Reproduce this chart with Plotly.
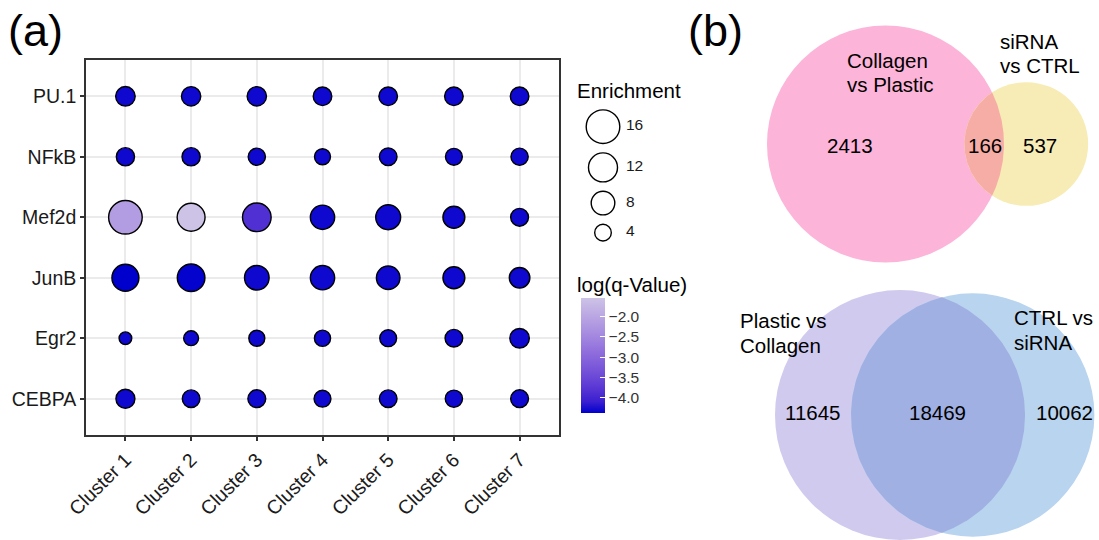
import numpy as np
import plotly.graph_objects as go

# ---------------- panel (a): motif enrichment dot plot ----------------
clusters = ["Cluster 1", "Cluster 2", "Cluster 3", "Cluster 4",
            "Cluster 5", "Cluster 6", "Cluster 7"]
factors = ["CEBPA", "Egr2", "JunB", "Mef2d", "NFkB", "PU.1"]  # bottom to top

enrich_cebpa = [5.2, 4.5, 4.6, 4.1, 4.5, 4.3, 4.6]
enrich_egr2 = [2.3, 3.2, 3.7, 3.8, 4.1, 4.5, 5.5]
enrich_junb = [10.4, 10.9, 8.7, 8.5, 8.0, 6.9, 6.1]
enrich_mef2d = [16.0, 11.1, 11.7, 8.5, 8.9, 6.9, 4.6]
enrich_nfkb = [4.8, 4.8, 4.3, 3.7, 4.5, 4.1, 4.3]
enrich_pu1 = [5.5, 5.4, 5.4, 5.0, 5.0, 5.0, 5.0]

logq_cebpa = [-4.30, -4.30, -4.30, -4.30, -4.30, -4.30, -4.30]
logq_egr2 = [-4.30, -4.30, -4.30, -4.30, -4.30, -4.30, -4.30]
logq_junb = [-4.37, -4.35, -4.30, -4.30, -4.30, -4.30, -4.30]
logq_mef2d = [-2.15, -1.55, -3.85, -4.30, -4.30, -4.30, -4.30]
logq_nfkb = [-4.30, -4.30, -4.30, -4.30, -4.30, -4.30, -4.30]
logq_pu1 = [-4.30, -4.30, -4.30, -4.30, -4.30, -4.30, -4.30]

size_legend_values = [16, 12, 8, 4]
colorbar_ticks = [-4.0, -3.5, -3.0, -2.5, -2.0]

# ---------------- panel (b): Venn counts ----------------
venn_top = {"left": 2413, "both": 166, "right": 537}
venn_bottom = {"left": 11645, "both": 18469, "right": 10062}

FONT = "Liberation Sans, Arial, Helvetica, sans-serif"
W, H = 1099, 540

# colour bar box (pixels)
CB_LEFT, CB_TOP, CB_W, CB_H = 581, 298, 24, 115


def px_x(v):
    return v / W


def px_y(v):
    return 1 - v / H


def dot_diameter(v):
    # area-proportional size scale (outer diameter in px)
    return np.sqrt(25.0 + 75.0 * np.asarray(v, dtype=float))


# ---- Lab colour interpolation for the q-value gradient ----
def _srgb_to_lin(c):
    c = c / 255.0
    return np.where(c <= 0.04045, c / 12.92, ((c + 0.055) / 1.055) ** 2.4)


def _lin_to_srgb(c):
    c = np.clip(c, 0, 1)
    return 255.0 * np.where(c <= 0.0031308, 12.92 * c, 1.055 * c ** (1 / 2.4) - 0.055)


M = np.array([[0.4124, 0.3576, 0.1805],
              [0.2126, 0.7152, 0.0722],
              [0.0193, 0.1192, 0.9505]])
WHITE = np.array([0.95047, 1.0, 1.08883])


def rgb_to_lab(rgb):
    xyz = M @ _srgb_to_lin(np.asarray(rgb, float)) / WHITE
    f = np.where(xyz > 216 / 24389, np.cbrt(xyz), (24389 / 27 * xyz + 16) / 116)
    return np.array([116 * f[1] - 16, 500 * (f[0] - f[1]), 200 * (f[1] - f[2])])


def lab_to_rgb(lab):
    fy = (lab[0] + 16) / 116
    fx = fy + lab[1] / 500
    fz = fy - lab[2] / 200
    f = np.array([fx, fy, fz])
    xyz = np.where(f ** 3 > 216 / 24389, f ** 3, (116 * f - 16) / (24389 / 27)) * WHITE
    return _lin_to_srgb(np.linalg.solve(M, xyz))


low_rgb, high_rgb = (0, 0, 205), (205, 195, 230)
lab_lo, lab_hi = rgb_to_lab(low_rgb), rgb_to_lab(high_rgb)
colorscale = []
for t in np.linspace(0, 1, 11):
    r, g, b = lab_to_rgb(lab_lo + t * (lab_hi - lab_lo))
    colorscale.append([float(t), f"rgb({r:.0f},{g:.0f},{b:.0f})"])

enrich_rows = [enrich_cebpa, enrich_egr2, enrich_junb, enrich_mef2d, enrich_nfkb, enrich_pu1]
logq_rows = [logq_cebpa, logq_egr2, logq_junb, logq_mef2d, logq_nfkb, logq_pu1]

xs, ys, es, qs = [], [], [], []
for f, erow, qrow in zip(factors, enrich_rows, logq_rows):
    for c, e, q in zip(clusters, erow, qrow):
        xs.append(c)
        ys.append(f)
        es.append(e)
        qs.append(q)

q_min, q_max = min(qs), max(qs)

LINE_W = 1.4
fig = go.Figure()

fig.add_trace(go.Scatter(
    x=xs, y=ys, mode="markers", xaxis="x", yaxis="y", showlegend=False,
    hoverinfo="skip",
    marker=dict(
        size=dot_diameter(es) - LINE_W, opacity=1,
        color=qs, cmin=q_min, cmax=q_max, colorscale=colorscale,
        line=dict(color="black", width=LINE_W),
        colorbar=dict(
            x=px_x(CB_LEFT), xanchor="left",
            y=px_y(CB_TOP + CB_H / 2), yanchor="middle",
            len=CB_H, lenmode="pixels", thickness=CB_W, thicknessmode="pixels",
            outlinewidth=0, xpad=0, ypad=0,
            tickvals=colorbar_ticks, tickformat=".1f",
            ticks="inside", ticklen=5, tickwidth=1, tickcolor="white",
            tickfont=dict(family=FONT, size=15.5, color="#333333"),
        ),
    ),
))

# size legend ("Enrichment") drawn in pixel space
leg_d = dot_diameter(size_legend_values)
leg_y = [126.7]
for i in range(1, len(leg_d)):
    leg_y.append(leg_y[-1] + (leg_d[i - 1] + leg_d[i]) / 2 + 8)
fig.add_trace(go.Scatter(
    x=[603] * len(leg_d), y=leg_y, mode="markers", xaxis="x2", yaxis="y2",
    showlegend=False, hoverinfo="skip",
    marker=dict(size=leg_d - LINE_W, color="white", opacity=1,
                line=dict(color="black", width=LINE_W)),
))

annotations = []
shapes = []


def txt(x, y, s, size, xanchor="left", color="black"):
    annotations.append(dict(
        x=x, y=y, xref="x2", yref="y2", text=s, showarrow=False,
        xanchor=xanchor, yanchor="middle", borderpad=0,
        font=dict(family=FONT, size=size, color=color)))


for v, yy in zip(size_legend_values, leg_y):
    txt(625, yy - 2, str(v), 15.5, color="#1a1a1a")

# white tick marks on the left edge of the colour bar
for v in colorbar_ticks:
    yy = CB_TOP + (q_max - v) / (q_max - q_min) * CB_H
    shapes.append(dict(type="line", xref="x2", yref="y2", layer="above",
                       x0=CB_LEFT, x1=CB_LEFT + 5, y0=yy, y1=yy,
                       line=dict(color="white", width=1)))

txt(576, 90, "Enrichment", 20.5)
txt(576, 284, "log(q-Value)", 20.5)
txt(7, 30, "(a)", 45)
txt(687, 30, "(b)", 45)


# ---------------- Venn geometry from counts ----------------
def lens_area(r1, r2, d):
    if d >= r1 + r2:
        return 0.0
    if d <= abs(r1 - r2):
        return np.pi * min(r1, r2) ** 2
    a1 = r1 ** 2 * np.arccos((d * d + r1 * r1 - r2 * r2) / (2 * d * r1))
    a2 = r2 ** 2 * np.arccos((d * d + r2 * r2 - r1 * r1) / (2 * d * r2))
    k = 0.5 * np.sqrt((-d + r1 + r2) * (d + r1 - r2) * (d - r1 + r2) * (d + r1 + r2))
    return a1 + a2 - k


def venn_geometry(counts, r_left):
    tot_l = counts["left"] + counts["both"]
    tot_r = counts["right"] + counts["both"]
    scale = np.pi * r_left ** 2 / tot_l
    r1 = r_left
    r2 = np.sqrt(scale * tot_r / np.pi)
    target = scale * counts["both"]
    lo, hi = abs(r1 - r2), r1 + r2
    for _ in range(80):
        mid = 0.5 * (lo + hi)
        if lens_area(r1, r2, mid) > target:
            lo = mid
        else:
            hi = mid
    return r1, r2, 0.5 * (lo + hi)


def lens_polygon(cx1, r1, cx2, r2, cy):
    d = cx2 - cx1
    a = (d * d + r1 * r1 - r2 * r2) / (2 * d)
    h = np.sqrt(max(r1 * r1 - a * a, 0))
    t1 = np.arctan2(h, a)
    t2 = np.arctan2(h, a - d)
    th1 = np.linspace(-t1, t1, 120)
    th2 = np.linspace(t2, 2 * np.pi - t2, 120)
    px = np.concatenate([cx1 + r1 * np.cos(th1), cx2 + r2 * np.cos(th2)])
    py = np.concatenate([cy + r1 * np.sin(th1), cy + r2 * np.sin(th2)])
    return px, py


def venn(counts, cx_left, cy, r_left, col_l, col_r, col_both):
    r1, r2, d = venn_geometry(counts, r_left)
    cx_right = cx_left + d
    for cx, r, col in [(cx_left, r1, col_l), (cx_right, r2, col_r)]:
        shapes.append(dict(type="circle", xref="x2", yref="y2", layer="below",
                           x0=cx - r, x1=cx + r, y0=cy - r, y1=cy + r,
                           fillcolor=col, line=dict(width=0)))
    lx, ly = lens_polygon(cx_left, r1, cx_right, r2, cy)
    fig.add_trace(go.Scatter(x=lx, y=ly, xaxis="x2", yaxis="y2", mode="lines",
                             fill="toself", fillcolor=col_both,
                             line=dict(width=0, color=col_both),
                             showlegend=False, hoverinfo="skip"))


venn(venn_top, 885.5, 144, 118.5, "#FCB4D9", "#F7ECB5", "#F6ADA6")
venn(venn_bottom, 900, 415, 125, "#D0CAEE", "#B9D4EF", "#A0B0E2")

# Venn labels
VS = 20.5
txt(846, 60, "Collagen", VS)
txt(846, 84, "vs Plastic", VS)
txt(999, 41, "siRNA", VS)
txt(999, 65, "vs CTRL", VS)
txt(850, 145, f"{venn_top['left']}", VS, "center")
txt(985, 145, f"{venn_top['both']}", VS, "center")
txt(1040, 145, f"{venn_top['right']}", VS, "center")

txt(739, 320, "Plastic vs", VS)
txt(739, 345, "Collagen", VS)
txt(1013, 317, "CTRL vs", VS)
txt(1013, 342, "siRNA", VS)
txt(812, 412, f"{venn_bottom['left']}", VS, "center")
txt(937, 412, f"{venn_bottom['both']}", VS, "center")
txt(1064, 412, f"{venn_bottom['right']}", VS, "center")

axis_common = dict(
    showgrid=True, gridcolor="#EBEBEB", gridwidth=2,
    showline=True, mirror=True, linecolor="#333333", linewidth=1.6,
    ticks="outside", ticklen=4, tickwidth=1.6, tickcolor="#333333",
    zeroline=False, fixedrange=True, automargin=False,
    tickfont=dict(family=FONT, size=19.5, color="#1a1a1a"),
)

fig.update_layout(
    template="none",
    width=W, height=H, autosize=False,
    margin=dict(l=0, r=0, t=0, b=0, pad=0),
    paper_bgcolor="white", plot_bgcolor="rgba(0,0,0,0)",
    xaxis=dict(domain=[px_x(86), px_x(559)], anchor="y", type="category",
               categoryorder="array", categoryarray=clusters,
               range=[-0.6, 6.6], tickangle=-45, **axis_common),
    yaxis=dict(domain=[px_y(435), px_y(60)], anchor="x", type="category",
               categoryorder="array", categoryarray=factors,
               range=[-0.6, 5.6], **axis_common),
    xaxis2=dict(domain=[0, 1], anchor="y2", range=[0, W], visible=False,
                fixedrange=True, automargin=False),
    yaxis2=dict(domain=[0, 1], anchor="x2", range=[H, 0], visible=False,
                fixedrange=True, automargin=False),
    shapes=shapes,
    annotations=annotations,
    font=dict(family=FONT),
)

fig.write_html("out.html")
